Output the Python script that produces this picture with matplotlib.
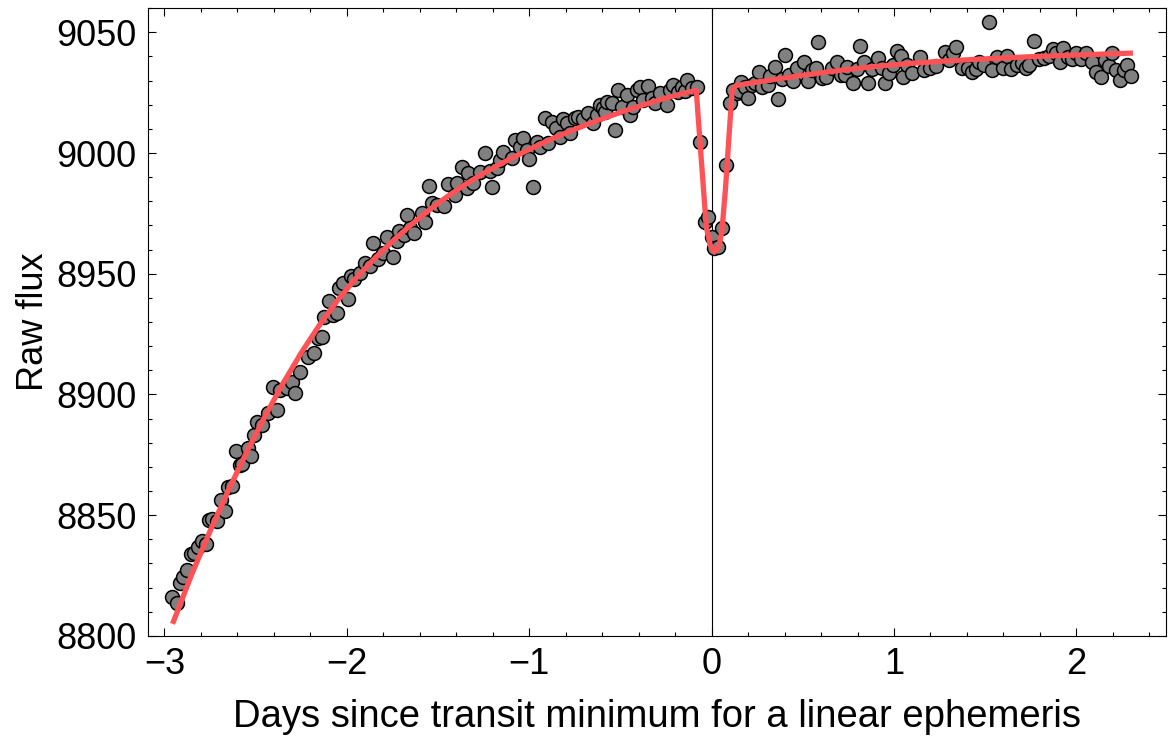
import numpy as np
import matplotlib
matplotlib.use('Agg')
import matplotlib.pyplot as plt
from matplotlib.ticker import MultipleLocator


days = [-2.959, -2.932, -2.915, -2.899, -2.877, -2.855, -2.838, -2.816, -2.795, -2.773,
        -2.756, -2.740, -2.712, -2.690, -2.668, -2.652, -2.630, -2.608, -2.586, -2.575,
        -2.542, -2.526, -2.509, -2.493, -2.466, -2.433, -2.405, -2.384, -2.367, -2.329,
        -2.301, -2.285, -2.258, -2.214, -2.181, -2.159, -2.137, -2.126, -2.099, -2.077,
        -2.055, -2.044, -2.022, -1.995, -1.978, -1.962, -1.929, -1.901, -1.874, -1.858,
        -1.830, -1.803, -1.781, -1.748, -1.726, -1.715, -1.688, -1.671, -1.655, -1.633,
        -1.589, -1.573, -1.551, -1.534, -1.507, -1.468, -1.446, -1.408, -1.397, -1.370,
        -1.342, -1.337, -1.310, -1.271, -1.244, -1.216, -1.205, -1.178, -1.162, -1.145,
        -1.096, -1.079, -1.052, -1.036, -1.014, -1.003, -0.981, -0.959, -0.942, -0.915,
        -0.899, -0.877, -0.855, -0.833, -0.816, -0.795, -0.778, -0.751, -0.734, -0.707,
        -0.679, -0.652, -0.630, -0.614, -0.597, -0.586, -0.575, -0.548, -0.532, -0.515,
        -0.493, -0.466, -0.449, -0.433, -0.411, -0.395, -0.378, -0.351, -0.329, -0.312,
        -0.285, -0.247, -0.230, -0.214, -0.186, -0.164, -0.148, -0.132, -0.110, -0.082,
        -0.066, -0.038, -0.022, 0.005, 0.016, 0.033, 0.055, 0.077, 0.099, 0.115,
        0.137, 0.153, 0.164, 0.181, 0.197, 0.219, 0.236, 0.258, 0.279, 0.307,
        0.318, 0.345, 0.362, 0.384, 0.405, 0.427, 0.444, 0.471, 0.504, 0.526,
        0.553, 0.575, 0.586, 0.608, 0.630, 0.658, 0.685, 0.712, 0.734, 0.745,
        0.773, 0.795, 0.816, 0.833, 0.855, 0.877, 0.910, 0.937, 0.953, 0.975,
        0.997, 1.014, 1.041, 1.052, 1.074, 1.101, 1.140, 1.167, 1.195, 1.233,
        1.277, 1.304, 1.321, 1.342, 1.375, 1.403, 1.430, 1.452, 1.468, 1.496,
        1.523, 1.540, 1.567, 1.595, 1.622, 1.644, 1.677, 1.704, 1.726, 1.742,
        1.770, 1.797, 1.825, 1.852, 1.874, 1.890, 1.912, 1.929, 1.956, 1.978,
        2.000, 2.027, 2.055, 2.088, 2.110, 2.137, 2.159, 2.181, 2.197, 2.219,
        2.241, 2.263, 2.279, 2.301]

flux = [8816.1, 8813.7, 8821.9, 8824.4, 8827.3, 8833.9, 8834.5, 8836.8, 8839.3, 8838.1,
        8848.0, 8848.4, 8847.6, 8856.3, 8851.7, 8861.7, 8862.0, 8876.6, 8870.8, 8871.2,
        8877.8, 8874.5, 8883.2, 8888.6, 8887.3, 8892.3, 8903.1, 8893.5, 8901.8, 8902.6,
        8905.1, 8900.6, 8909.3, 8915.5, 8917.1, 8923.3, 8923.8, 8932.0, 8938.7, 8932.9,
        8933.7, 8944.0, 8946.1, 8939.5, 8949.0, 8947.8, 8950.2, 8954.4, 8953.1, 8962.7,
        8956.0, 8958.5, 8965.1, 8956.9, 8963.5, 8967.6, 8966.0, 8974.3, 8968.9, 8966.8,
        8975.1, 8971.4, 8986.3, 8979.2, 8978.4, 8978.0, 8987.1, 8982.5, 8987.5, 8994.1,
        8985.4, 8991.6, 8987.5, 8992.1, 8999.9, 8992.5, 8985.8, 8993.7, 8997.0, 9000.3,
        8997.8, 9005.3, 9002.4, 9006.1, 9001.2, 8997.4, 8985.8, 9004.5, 9002.4, 9014.4,
        9004.0, 9012.7, 9010.3, 9006.5, 9014.0, 9012.3, 9008.2, 9014.4, 9014.8, 9014.2,
        9016.5, 9012.3, 9015.6, 9019.8, 9018.5, 9016.9, 9021.0, 9020.7, 9009.4, 9026.0,
        9019.0, 9023.9, 9015.6, 9019.2, 9026.0, 9027.2, 9021.9, 9027.7, 9022.7, 9020.6,
        9024.8, 9019.8, 9026.0, 9028.1, 9025.2, 9027.2, 9025.5, 9030.1, 9026.8, 9027.2,
        9004.5, 8971.4, 8973.4, 8965.1, 8960.6, 8961.0, 8968.9, 8995.0, 9020.6, 9026.0,
        9024.8, 9025.8, 9029.3, 9027.2, 9022.7, 9028.1, 9028.9, 9033.4, 9027.2, 9028.1,
        9031.8, 9035.5, 9022.3, 9030.5, 9040.5, 9032.2, 9029.7, 9035.1, 9037.6, 9029.7,
        9034.3, 9035.1, 9045.9, 9031.0, 9031.4, 9035.1, 9037.6, 9032.2, 9032.5, 9035.5,
        9028.9, 9034.7, 9044.2, 9037.6, 9028.9, 9034.7, 9039.2, 9035.1, 9028.9, 9033.0,
        9036.3, 9042.1, 9040.1, 9031.4, 9036.3, 9033.0, 9039.6, 9034.3, 9035.1, 9035.9,
        9041.7, 9038.4, 9041.3, 9043.8, 9035.1, 9035.3, 9033.4, 9034.7, 9037.6, 9036.3,
        9054.1, 9034.3, 9039.6, 9035.1, 9040.1, 9034.7, 9036.3, 9037.2, 9035.1, 9036.3,
        9046.3, 9038.8, 9039.2, 9040.1, 9043.0, 9041.3, 9037.6, 9043.4, 9039.6, 9038.8,
        9041.3, 9038.8, 9041.3, 9037.6, 9033.4, 9031.4, 9038.4, 9035.9, 9041.3, 9034.3,
        9030.1, 9034.3, 9036.3, 9031.8]

# best-fit model curve
model_days = [-2.955, -2.85, -2.75, -2.65, -2.55, -2.45, -2.35, -2.25, -2.15, -2.05,
              -1.95, -1.85, -1.75, -1.65, -1.55, -1.45, -1.35, -1.25, -1.15, -1.05,
              -0.95, -0.85, -0.75, -0.65, -0.55, -0.45, -0.35, -0.25, -0.15, -0.084,
              -0.056, -0.029, -0.007, 0.016, 0.04, 0.057, 0.077, 0.099, 0.113, 0.135,
              0.3, 0.5, 0.7, 0.9, 1.1, 1.3, 1.5, 1.75, 2.0, 2.31]
model_flux = [8805.0, 8825.5, 8843.3, 8860.1, 8875.9, 8890.7, 8904.5, 8917.2, 8928.7, 8939.0,
              8948.1, 8956.1, 8963.4, 8970.1, 8976.3, 8981.9, 8987.0, 8991.6, 8995.8, 8999.6,
              9003.3, 9006.7, 9009.8, 9012.8, 9015.5, 9018.1, 9020.5, 9022.8, 9024.8, 9026.0,
              8997.0, 8969.4, 8961.8, 8959.0, 8961.1, 8968.0, 8986.0, 9010.8, 9026.0, 9028.0,
              9030.0, 9032.2, 9034.2, 9035.9, 9037.2, 9038.2, 9039.0, 9039.9, 9040.6, 9041.4]


plt.rcParams['font.family'] = ['Liberation Sans', 'DejaVu Sans']

fig = plt.figure(figsize=(11.74, 7.42), dpi=100)
ax = fig.add_axes([0.126, 0.143, 0.867, 0.846])

ax.axvline(0, color='k', lw=0.8, zorder=1)
ax.scatter(days, flux, s=100, c='#808080', edgecolors='k', linewidths=1.1, zorder=2)
ax.plot(model_days, model_flux, color='#ff5257', lw=3.8, zorder=3,
        solid_joinstyle='round', solid_capstyle='butt')

ax.set_xlim(-3.09, 2.49)
ax.set_ylim(8800, 9060)
ax.xaxis.set_major_locator(MultipleLocator(1))
ax.xaxis.set_minor_locator(MultipleLocator(0.2))
ax.yaxis.set_major_locator(MultipleLocator(50))
ax.yaxis.set_minor_locator(MultipleLocator(10))
ax.tick_params(which='both', direction='in', top=True, right=True, width=0.8)
ax.tick_params(which='major', length=6, labelsize=26, pad=8)
ax.tick_params(which='minor', length=3)
for sp in ax.spines.values():
    sp.set_linewidth(0.8)

ax.set_xlabel('Days since transit minimum for a linear ephemeris', fontsize=27.5, labelpad=12)
ax.set_ylabel('Raw flux', fontsize=26)

fig.savefig('out.png', dpi=100)
